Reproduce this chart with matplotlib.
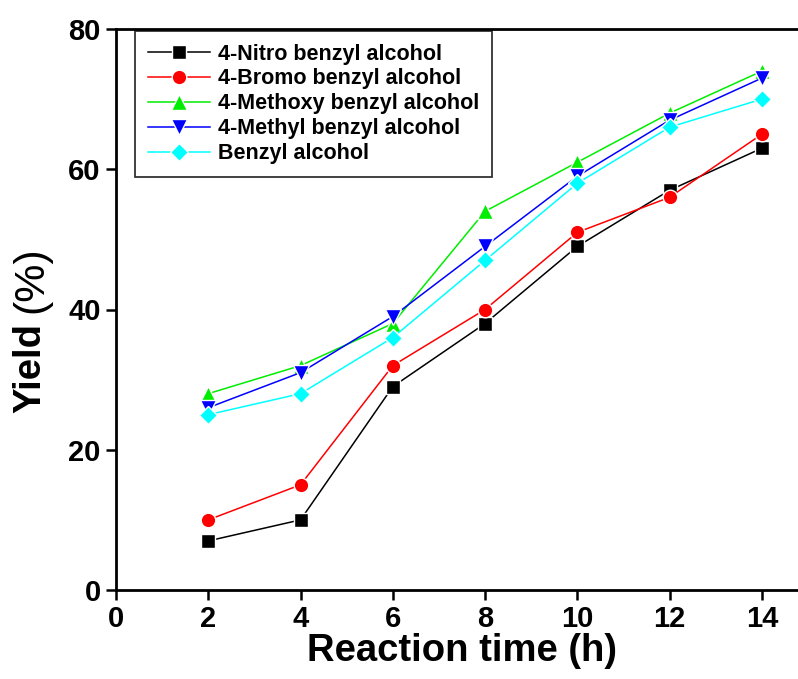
import matplotlib
matplotlib.use('Agg')
import matplotlib.pyplot as plt

time_h = [2, 4, 6, 8, 10, 12, 14]
nitro = [7, 10, 29, 38, 49, 57, 63]
bromo = [10, 15, 32, 40, 51, 56, 65]
methoxy = [28, 32, 38, 54, 61, 68, 74]
methyl = [26, 31, 39, 49, 59, 67, 73]
benzyl = [25, 28, 36, 47, 58, 66, 70]

series = [
    ('4-Nitro benzyl alcohol', nitro, 'black', 's', 10),
    ('4-Bromo benzyl alcohol', bromo, 'red', 'o', 10.5),
    ('4-Methoxy benzyl alcohol', methoxy, '#00ee00', '^', 11),
    ('4-Methyl benzyl alcohol', methyl, 'blue', 'v', 11),
    ('Benzyl alcohol', benzyl, 'cyan', 'D', 9),
]

plt.rcParams['font.family'] = ['Liberation Sans', 'DejaVu Sans']
plt.rcParams['font.weight'] = 'bold'

fig = plt.figure(figsize=(7.98, 6.79), dpi=100)
ax = fig.add_axes([116 / 798, 89 / 679, 692 / 798, 561 / 679])

for label, vals, color, marker, ms in series:
    ax.plot(time_h, vals, color=color, marker=marker, markersize=ms,
            markeredgecolor='white', markeredgewidth=1.0, linewidth=1.1,
            label=label)

ax.set_xlim(0, 15)
ax.set_ylim(0, 80)
ax.set_xticks([0, 2, 4, 6, 8, 10, 12, 14])
ax.set_yticks([0, 20, 40, 60, 80])
for s in ax.spines.values():
    s.set_linewidth(2)
ax.tick_params(direction='out', length=7, width=1.8, labelsize=21, pad=4)
for t in ax.get_xticklabels() + ax.get_yticklabels():
    t.set_fontweight('bold')

ax.set_xlabel('Reaction time (h)', fontsize=27.5, fontweight='bold', labelpad=0)

# y label: bold "Yield" followed by regular "(%)"
renderer = fig.canvas.get_renderer()
t1 = fig.text(30 / 798, 1 - 413 / 679, 'Yield', rotation=90, fontsize=27.5,
              fontweight='bold', ha='center', va='bottom')
h = t1.get_window_extent(renderer).height
fig.text(31 / 798, 1 - (413 - h - 10) / 679, '(%)', rotation=90, fontsize=31,
         fontweight='normal', ha='center', va='bottom')

leg = ax.legend(loc='upper left', bbox_to_anchor=(0.027, 0.997),
                frameon=True, fancybox=False, edgecolor='black',
                handlelength=2.9, handletextpad=0.35, borderpad=0.6,
                labelspacing=0.18, borderaxespad=0,
                prop={'weight': 'bold', 'size': 15.5})
leg.get_frame().set_linewidth(1.3)

fig.savefig('out.png', dpi=100)
